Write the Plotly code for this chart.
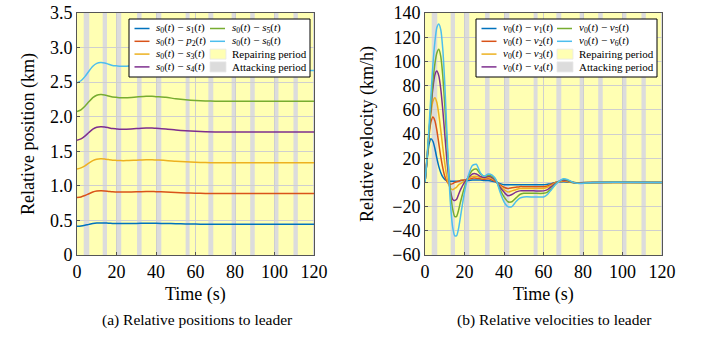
import plotly.graph_objects as go

W, H = 706, 337
FONT = "Liberation Serif, Tinos, Times New Roman, DejaVu Serif, serif"

# ---------------- data ----------------
T_POS = [0, 2, 4, 6, 8, 10, 12, 14, 16, 18, 20, 22, 25, 30, 35, 38, 40, 45, 50, 55, 60, 65, 70, 80, 100, 120]
P1 = [0.415, 0.420, 0.430, 0.443, 0.455, 0.462, 0.464, 0.463, 0.460, 0.457, 0.456, 0.455, 0.455, 0.457, 0.459, 0.459, 0.458, 0.456, 0.452, 0.449, 0.447, 0.446, 0.445, 0.445, 0.445, 0.445]
P2 = [0.83, 0.84, 0.86, 0.886, 0.91, 0.924, 0.928, 0.926, 0.92, 0.914, 0.912, 0.91, 0.91, 0.914, 0.918, 0.918, 0.916, 0.912, 0.904, 0.898, 0.894, 0.891, 0.89, 0.89, 0.89, 0.89]
P3 = [1.245, 1.26, 1.29, 1.329, 1.365, 1.386, 1.392, 1.389, 1.38, 1.371, 1.368, 1.365, 1.365, 1.371, 1.377, 1.377, 1.374, 1.368, 1.356, 1.347, 1.341, 1.337, 1.335, 1.335, 1.335, 1.335]
P4 = [1.66, 1.68, 1.72, 1.772, 1.82, 1.848, 1.856, 1.852, 1.84, 1.828, 1.824, 1.82, 1.82, 1.828, 1.836, 1.836, 1.832, 1.824, 1.808, 1.796, 1.788, 1.782, 1.78, 1.78, 1.78, 1.78]
P5 = [2.075, 2.10, 2.15, 2.215, 2.275, 2.31, 2.32, 2.315, 2.30, 2.285, 2.28, 2.275, 2.275, 2.285, 2.295, 2.295, 2.29, 2.28, 2.26, 2.245, 2.235, 2.228, 2.225, 2.225, 2.225, 2.225]
P6 = [2.49, 2.52, 2.58, 2.658, 2.73, 2.772, 2.784, 2.778, 2.76, 2.742, 2.736, 2.73, 2.73, 2.742, 2.754, 2.754, 2.748, 2.736, 2.712, 2.694, 2.682, 2.673, 2.67, 2.67, 2.67, 2.67]

T_VEL = [0, 1, 2, 3, 4, 5, 6, 7, 8, 9, 10, 11, 12, 13, 14, 15, 16, 17, 18,
         20, 22, 24, 26, 28, 30, 32, 34, 36, 38, 40, 42, 44, 46, 48, 50,
         55, 60, 62, 64, 66, 68, 70, 72, 75, 78, 85, 120]
V1 = [0, 18, 31, 36, 34, 28, 20, 13, 8, 4.5, 2.5, 1.5, 1, 1, 1, 1, 1, 1, 1.5,
      1.5, 1.5, 2, 2, 2, 1.5, 1.5, 1, 0.3, -1, -2, -2, -2, -2, -2, -2,
      -2, -2, -1.5, -1, 0, 0.3, 0.5, 0.4, 0, -0.2, 0, 0]
V2 = [0, 20, 38, 50, 54, 51, 43, 32, 21, 12, 5, 1, -1, -1.5, -1, 0, 0.5, 1, 1.5,
      2, 2.5, 3.5, 3.5, 3, 2.5, 3, 2, 0.5, -2, -4, -5, -4.5, -4, -3.5, -3.5,
      -3.5, -3.5, -3, -1.5, 0, 0.5, 1, 0.8, 0, -0.3, 0, 0]
V3 = [0, 20, 40, 57, 67, 70, 66, 56, 43, 29, 16, 5, -2, -5, -6, -5, -4, -2, -1,
      1, 3, 5, 5, 4, 3.5, 4, 3, 0.8, -3, -6, -8, -7, -6, -5, -5,
      -5, -5, -4, -2.5, -0.5, 0.5, 1.5, 1, 0, -0.4, 0, 0]
V4 = [0, 18, 40, 61, 78, 89, 92, 88, 77, 60, 40, 20, 4, -8, -14, -15, -14, -10, -6,
      0, 4, 7, 7, 5, 4, 5, 4, 1, -4, -8, -11, -10, -8, -7, -7,
      -7, -7, -6, -3.5, -1, 1, 2, 1.5, 0, -0.6, 0, 0]
V5 = [0, 18, 40, 63, 83, 98, 107, 110, 104, 88, 64, 36, 10, -10, -22, -28, -28, -23, -16,
      -4, 5, 10, 11, 7, 5, 6, 5, 1.5, -6, -12, -16, -16, -13, -10, -9,
      -9, -9, -8, -5, -1.5, 1, 2.5, 2, 0, -0.8, 0, 0]
V6 = [0, 20, 45, 72, 97, 116, 128, 131, 126, 110, 82, 45, 8, -20, -37, -44, -44, -38, -28,
      -8, 6, 14, 15, 8, 5, 7, 6, 2, -8, -16, -20, -20, -16, -13, -12,
      -12, -12, -10, -6, -2, 1, 3, 2.5, 0, -1, 0, 0]

ATTACK_PERIODS = [(3.4, 6.2), (13.0, 15.2), (20.1, 22.4), (30.4, 32.7), (40.5, 42.7), (55.0, 57.0),
                  (66.5, 69.0), (78.3, 80.3), (87.7, 90.0), (100.0, 102.0), (109.6, 111.8), (119.5, 120.0)]

X_TICKS = [0, 20, 40, 60, 80, 100, 120]
POS_TICKS = [0, 0.5, 1.0, 1.5, 2.0, 2.5, 3.0, 3.5]
POS_TICK_TEXT = ["0", "0.5", "1.0", "1.5", "2.0", "2.5", "3.0", "3.5"]
VEL_TICKS = [-60, -40, -20, 0, 20, 40, 60, 80, 100, 120, 140]

POS_LABELS = ["<i>s</i><sub>0</sub>(<i>t</i>) − <i>s</i><sub>1</sub>(<i>t</i>)",
              "<i>s</i><sub>0</sub>(<i>t</i>) − <i>p</i><sub>2</sub>(<i>t</i>)",
              "<i>s</i><sub>0</sub>(<i>t</i>) − <i>s</i><sub>3</sub>(<i>t</i>)",
              "<i>s</i><sub>0</sub>(<i>t</i>) − <i>s</i><sub>4</sub>(<i>t</i>)",
              "<i>s</i><sub>0</sub>(<i>t</i>) − <i>s</i><sub>5</sub>(<i>t</i>)",
              "<i>s</i><sub>0</sub>(<i>t</i>) − <i>s</i><sub>6</sub>(<i>t</i>)"]
VEL_LABELS = ["<i>v</i><sub>0</sub>(<i>t</i>) − <i>v</i><sub>1</sub>(<i>t</i>)",
              "<i>v</i><sub>0</sub>(<i>t</i>) − <i>v</i><sub>2</sub>(<i>t</i>)",
              "<i>v</i><sub>0</sub>(<i>t</i>) − <i>v</i><sub>3</sub>(<i>t</i>)",
              "<i>v</i><sub>0</sub>(<i>t</i>) − <i>v</i><sub>4</sub>(<i>t</i>)",
              "<i>v</i><sub>0</sub>(<i>t</i>) − <i>v</i><sub>5</sub>(<i>t</i>)",
              "<i>v</i><sub>0</sub>(<i>t</i>) − <i>v</i><sub>6</sub>(<i>t</i>)"]
PERIOD_LABELS = ["Repairing period", "Attacking period"]

COLORS = ["#0072BD", "#D95319", "#EDB120", "#7E2F8E", "#77AC30", "#4DBEEE"]
YELLOW = "#FFFFB3"
GREY = "#DCDCDC"

# ---------------- figure ----------------
fig = go.Figure()
for vals, name, c in zip([P1, P2, P3, P4, P5, P6], POS_LABELS, COLORS):
    fig.add_trace(go.Scatter(x=T_POS, y=vals, mode="lines", name=name, showlegend=False,
                             line=dict(color=c, width=1.5, shape="spline", smoothing=0.6),
                             xaxis="x", yaxis="y"))
for vals, name, c in zip([V1, V2, V3, V4, V5, V6], VEL_LABELS, COLORS):
    fig.add_trace(go.Scatter(x=T_VEL, y=vals, mode="lines", name=name, showlegend=False,
                             line=dict(color=c, width=1.5, shape="spline", smoothing=0.6),
                             xaxis="x2", yaxis="y2"))

shapes = []
for xr, yr in (("x", "y domain"), ("x2", "y2 domain")):
    for a, b in ATTACK_PERIODS:
        shapes.append(dict(type="rect", xref=xr, yref=yr, x0=a, x1=b, y0=0, y1=1,
                           fillcolor=GREY, line=dict(width=0), layer="below"))

annotations = []


def px(x):
    return x / W


def py(y):
    return 1 - y / H


def add_legend(left, top, labels):
    width, height = 181, 58
    shapes.append(dict(type="rect", xref="paper", yref="paper",
                       x0=px(left), x1=px(left + width), y0=py(top), y1=py(top + height),
                       fillcolor="white", line=dict(color="black", width=1), layer="above"))
    rows = [top + 9.5, top + 22.3, top + 35.1, top + 47.9]
    cols = [left + 5.5, left + 81]
    items = [(labels[0], COLORS[0], "line"), (labels[1], COLORS[1], "line"),
             (labels[2], COLORS[2], "line"), (labels[3], COLORS[3], "line"),
             (labels[4], COLORS[4], "line"), (labels[5], COLORS[5], "line"),
             (PERIOD_LABELS[0], YELLOW, "box"), (PERIOD_LABELS[1], GREY, "box")]
    for i, (txt, col, kind) in enumerate(items):
        cx = cols[i // 4]
        ry = rows[i % 4]
        if kind == "line":
            shapes.append(dict(type="line", xref="paper", yref="paper",
                               x0=px(cx), x1=px(cx + 15), y0=py(ry), y1=py(ry),
                               line=dict(color=col, width=1.5), layer="above"))
        else:
            shapes.append(dict(type="rect", xref="paper", yref="paper",
                               x0=px(cx), x1=px(cx + 16), y0=py(ry - 5), y1=py(ry + 5),
                               fillcolor=col, line=dict(color="#e8e8e8", width=0.8), layer="above"))
        annotations.append(dict(xref="paper", yref="paper", x=px(cx + 19.5), y=py(ry),
                                xanchor="left", yanchor="middle", showarrow=False, text=txt,
                                font=dict(family=FONT, size=11, color="black")))


add_legend(129, 19, POS_LABELS)
add_legend(476, 19, VEL_LABELS)

TXT = dict(family=FONT, size=18, color="black")
CAP = dict(family=FONT, size=15.5, color="black")
annotations += [
    dict(xref="paper", yref="paper", x=px(195.5), y=py(294), text="Time (s)", showarrow=False,
         xanchor="center", yanchor="middle", font=TXT),
    dict(xref="paper", yref="paper", x=px(543.5), y=py(294), text="Time (s)", showarrow=False,
         xanchor="center", yanchor="middle", font=TXT),
    dict(xref="paper", yref="paper", x=px(28), y=py(134), text="Relative position (km)", showarrow=False,
         xanchor="center", yanchor="middle", textangle=-90, font=TXT),
    dict(xref="paper", yref="paper", x=px(367), y=py(134), text="Relative velocity (km/h)", showarrow=False,
         xanchor="center", yanchor="middle", textangle=-90, font=TXT),
    dict(xref="paper", yref="paper", x=px(197), y=py(320), text="(a) Relative positions to leader",
         showarrow=False, xanchor="center", yanchor="middle", font=CAP),
    dict(xref="paper", yref="paper", x=px(554), y=py(320), text="(b) Relative velocities to leader",
         showarrow=False, xanchor="center", yanchor="middle", font=CAP),
]

axis_common = dict(showgrid=True, gridcolor="#cfcfcf", gridwidth=1, showline=True, mirror=True,
                   linecolor="#555555", linewidth=1, ticks="inside", ticklen=3, tickcolor="#555555",
                   tickfont=dict(family=FONT, size=18, color="black"), zeroline=False, automargin=False)
YDOM = [1 - 255 / H, 1 - 13 / H]

fig.update_layout(
    width=W, height=H, margin=dict(l=0, r=0, t=0, b=0),
    paper_bgcolor="white", plot_bgcolor=YELLOW, showlegend=False,
    font=dict(family=FONT, color="black"),
    xaxis=dict(domain=[77 / W, 314 / W], anchor="y", range=[0, 120], tickvals=X_TICKS, **axis_common),
    yaxis=dict(domain=YDOM, anchor="x", range=[0, 3.5], tickvals=POS_TICKS, ticktext=POS_TICK_TEXT,
               **axis_common),
    xaxis2=dict(domain=[425 / W, 662 / W], anchor="y2", range=[0, 120], tickvals=X_TICKS, **axis_common),
    yaxis2=dict(domain=YDOM, anchor="x2", range=[-60, 140], tickvals=VEL_TICKS, **axis_common),
    shapes=shapes, annotations=annotations,
)

fig.write_html("out.html", config={"displayModeBar": False},
               post_script="document.body.style.margin='0';document.body.style.overflow='hidden';")
